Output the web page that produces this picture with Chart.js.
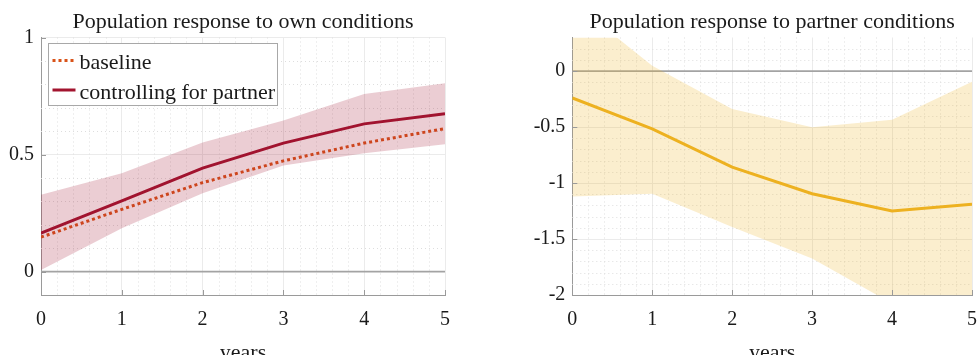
<!DOCTYPE html>
<html>
<head>
<meta charset="utf-8">
<title>Population response</title>
<script src="https://cdn.jsdelivr.net/npm/chart.js@4.4.1/dist/chart.umd.min.js"></script>
<style>
  html, body { margin: 0; padding: 0; background: #fff; }
  body { width: 979px; height: 355px; overflow: hidden; position: relative; }
  .panel { position: absolute; top: 0; width: 470px; height: 366px; }
  #ownPanel { left: 0; }
  #partnerPanel { left: 520px; }
</style>
</head>
<body>
<div class="panel" id="ownPanel"><canvas id="ownChart"></canvas></div>
<div class="panel" id="partnerPanel"><canvas id="partnerChart"></canvas></div>
<script>
const years = [0, 1, 2, 3, 4, 5];
const xTicks = [0, 1, 2, 3, 4, 5];

// response to own conditions
const ownBaseline = [0.147, 0.266, 0.380, 0.473, 0.549, 0.611];
const ownControlled = [0.164, 0.302, 0.442, 0.549, 0.631, 0.674];
const ownUpper = [0.328, 0.420, 0.551, 0.645, 0.759, 0.805];
const ownLower = [0.007, 0.185, 0.335, 0.453, 0.506, 0.544];
const ownYTicks = [0, 0.5, 1];

// response to partner conditions
const partnerResponse = [-0.240, -0.516, -0.858, -1.095, -1.250, -1.190];
const partnerUpper = [0.620, 0.047, -0.338, -0.502, -0.434, -0.095];
const partnerLower = [-1.120, -1.095, -1.393, -1.674, -2.076, -2.290];
const partnerYTicks = [-2, -1.5, -1, -0.5, 0];

const serif = "'Liberation Serif', 'Times New Roman', serif";
const axisGray = '#9a9a9a';
const textColor = '#1a1a1a';

function pts(ys) {
    return years.map((x, i) => ({ x: x, y: ys[i] }));
}

// dotted minor grid, boxed legend and inward tick marks
const axesExtras = {
    id: 'axesExtras',
    beforeDatasetsDraw(chart, args, opts) {
        const { ctx, chartArea: a, scales: { x, y } } = chart;
        ctx.save();
        ctx.strokeStyle = '#dedede';
        ctx.lineWidth = 1;
        ctx.setLineDash([1, 3]);
        ctx.beginPath();
        for (let v = x.min + opts.xStep; v < x.max - 1e-6; v += opts.xStep) {
            if (Math.abs(v - Math.round(v)) < 1e-6) continue;
            const px = Math.round(x.getPixelForValue(v)) + 0.5;
            ctx.moveTo(px, a.top);
            ctx.lineTo(px, a.bottom);
        }
        const start = Math.ceil(y.min / opts.yStep - 1e-6) * opts.yStep;
        for (let v = start; v < y.max - 1e-6; v += opts.yStep) {
            const r = v / opts.yMajor;
            if (Math.abs(r - Math.round(r)) < 1e-6 || v <= y.min + 1e-6) continue;
            const py = Math.round(y.getPixelForValue(v)) + 0.5;
            ctx.moveTo(a.left, py);
            ctx.lineTo(a.right, py);
        }
        ctx.stroke();
        ctx.restore();

        if (!opts.legend) return;
        const lg = opts.legend;
        const items = chart.data.datasets.filter(d => d.label);
        const bx = Math.round(a.left + lg.x) + 0.5;
        const by = Math.round(a.top + lg.y) + 0.5;
        ctx.save();
        ctx.fillStyle = '#fff';
        ctx.strokeStyle = '#a8a8a8';
        ctx.lineWidth = 1;
        ctx.fillRect(bx, by, lg.width, lg.height);
        ctx.strokeRect(bx, by, lg.width, lg.height);
        ctx.font = lg.fontSize + 'px ' + serif;
        ctx.textBaseline = 'alphabetic';
        ctx.textAlign = 'left';
        items.forEach((d, i) => {
            const rowY = by + lg.firstRow + i * lg.rowGap;
            ctx.strokeStyle = d.borderColor;
            ctx.lineWidth = d.borderWidth;
            ctx.setLineDash(d.borderDash || []);
            ctx.beginPath();
            ctx.moveTo(bx + 4, rowY);
            ctx.lineTo(bx + 4 + lg.sample, rowY);
            ctx.stroke();
            ctx.fillStyle = textColor;
            ctx.fillText(d.label, bx + 4 + lg.sample + 4, rowY + 8.5);
        });
        ctx.restore();
    },
    afterDatasetsDraw(chart) {
        const { ctx, chartArea: a, scales: { x, y } } = chart;
        ctx.save();
        ctx.strokeStyle = axisGray;
        ctx.lineWidth = 1;
        ctx.beginPath();
        x.ticks.forEach(t => {
            const px = Math.round(x.getPixelForValue(t.value)) + 0.5;
            ctx.moveTo(px, a.bottom);
            ctx.lineTo(px, a.bottom - 5);
        });
        y.ticks.forEach(t => {
            const py = Math.round(y.getPixelForValue(t.value)) + 0.5;
            ctx.moveTo(a.left, py);
            ctx.lineTo(a.left + 5, py);
        });
        ctx.stroke();
        ctx.restore();
    }
};

function makeScales(yMin, yMax, yTicks, yWidth) {
    return {
        x: {
            type: 'linear',
            min: 0,
            max: 5,
            afterBuildTicks: s => { s.ticks = xTicks.map(v => ({ value: v })); },
            afterFit: s => { s.height = 71; },
            grid: { color: '#ebebeb', drawTicks: false },
            border: { color: axisGray },
            ticks: { font: { family: serif, size: 20 }, color: textColor, padding: 13, maxRotation: 0 },
            title: { display: true, text: 'years', font: { family: serif, size: 22 }, color: textColor, padding: { top: 0, bottom: 0 } }
        },
        y: {
            type: 'linear',
            min: yMin,
            max: yMax,
            afterBuildTicks: s => { s.ticks = yTicks.map(v => ({ value: v })); },
            afterFit: s => { s.width = yWidth; },
            grid: { color: '#ebebeb', drawTicks: false },
            border: { color: axisGray },
            ticks: { font: { family: serif, size: 20 }, color: textColor, padding: 7, callback: v => String(v) }
        }
    };
}

function titleFor(text) {
    return {
        display: true,
        text: text,
        fullSize: false,
        color: textColor,
        font: { family: serif, size: 22, weight: 'normal', lineHeight: 1.2 },
        padding: { top: 9.5, bottom: 1.6 }
    };
}

function band(upper, lower, color) {
    return [
        { data: pts(upper), borderWidth: 0, pointRadius: 0, backgroundColor: color, fill: '+1' },
        { data: pts(lower), borderWidth: 0, pointRadius: 0, fill: false }
    ];
}

function zeroLine() {
    return { data: [{ x: 0, y: 0 }, { x: 5, y: 0 }], borderColor: '#a3a3a3', borderWidth: 1.6, pointRadius: 0, fill: false };
}

new Chart(document.getElementById('ownChart'), {
    type: 'line',
    data: {
        datasets: [
            ...band(ownUpper, ownLower, 'rgba(162, 20, 47, 0.21)'),
            zeroLine(),
            { label: 'baseline', data: pts(ownBaseline), borderColor: '#D95319', borderWidth: 3, borderDash: [3, 3], pointRadius: 0, fill: false },
            { label: 'controlling for partner', data: pts(ownControlled), borderColor: '#A2142F', borderWidth: 3, pointRadius: 0, fill: false }
        ]
    },
    options: {
        responsive: true,
        maintainAspectRatio: false,
        animation: false,
        layout: { padding: { left: 0, right: 25, top: 0, bottom: 0 } },
        scales: makeScales(-0.1, 1, ownYTicks, 41),
        plugins: {
            title: titleFor('Population response to own conditions'),
            legend: { display: false },
            tooltip: { enabled: false },
            axesExtras: {
                xStep: 0.2, yStep: 0.1, yMajor: 0.5,
                legend: { x: 7, y: 5.5, width: 229, height: 62, fontSize: 22, sample: 23, firstRow: 17, rowGap: 29.5 }
            }
        }
    },
    plugins: [axesExtras]
});

new Chart(document.getElementById('partnerChart'), {
    type: 'line',
    data: {
        datasets: [
            ...band(partnerUpper, partnerLower, 'rgba(237, 177, 32, 0.22)'),
            zeroLine(),
            { data: pts(partnerResponse), borderColor: '#EDB120', borderWidth: 3, pointRadius: 0, fill: false }
        ]
    },
    options: {
        responsive: true,
        maintainAspectRatio: false,
        animation: false,
        layout: { padding: { left: 0, right: 14.3, top: 0, bottom: 0 } },
        scales: makeScales(-2, 0.3, partnerYTicks, 52.3),
        plugins: {
            title: titleFor('Population response to partner conditions'),
            legend: { display: false },
            tooltip: { enabled: false },
            axesExtras: { xStep: 0.2, yStep: 0.1, yMajor: 0.5 }
        }
    },
    plugins: [axesExtras]
});
</script>
</body>
</html>
